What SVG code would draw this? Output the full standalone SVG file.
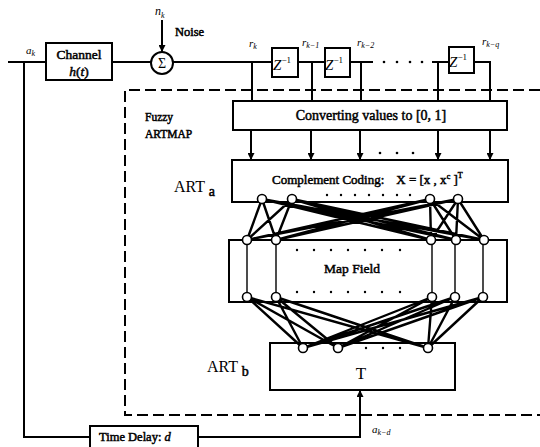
<svg xmlns="http://www.w3.org/2000/svg" width="540" height="447" viewBox="0 0 540 447">
<style>
.ln{stroke:#000;stroke-width:2;fill:none}
.dash{stroke:#000;stroke-width:2;fill:none;stroke-dasharray:11 5}
.bx{stroke:#000;stroke-width:2;fill:#fff}
.nd{stroke:#000;stroke-width:1.6;fill:#fff}
.w{stroke:#000;stroke-width:2.4;fill:none}
.v{stroke:#000;stroke-width:1.4;fill:none}
.t{font-family:"Liberation Serif",serif;fill:#000}
.b{stroke:#000;stroke-width:0.5}
.i{font-style:italic}
.dot{fill:#000}
</style>
<defs>
<marker id="ah" viewBox="0 0 10 10" refX="10" refY="5" markerWidth="9" markerHeight="7" orient="auto" markerUnits="userSpaceOnUse">
<path d="M0,0 L10,5 L0,10 z" fill="#000"/>
</marker>
</defs>

<!-- dashed Fuzzy ARTMAP frame -->
<path class="dash" d="M540,90 H125 V415 H540"/>

<g id="channel">
<rect class="bx" x="46" y="43" width="66" height="37"/>
<text class="t b" x="79" y="59" font-size="13.5" text-anchor="middle">Channel</text>
<text class="t b" x="79" y="76" font-size="13.5" text-anchor="middle"><tspan class="i">h</tspan>(<tspan class="i">t</tspan>)</text>
</g>

<g id="sum">
<circle class="bx" cx="162" cy="63" r="11"/>
<text class="t" x="162" y="68" font-size="14" text-anchor="middle">Σ</text>
</g>

<g id="z1">
<rect class="bx" x="272" y="48" width="26" height="29"/>
<text class="t i" x="282" y="70" font-size="15" text-anchor="middle">Z<tspan font-size="9" dy="-7" font-style="normal">−1</tspan></text>
</g>
<g id="z2">
<rect class="bx" x="325" y="48" width="25" height="29"/>
<text class="t i" x="334" y="70" font-size="15" text-anchor="middle">Z<tspan font-size="9" dy="-7" font-style="normal">−1</tspan></text>
</g>
<g id="zq">
<rect class="bx" x="449" y="47" width="25" height="26"/>
<text class="t i" x="458" y="67" font-size="15" text-anchor="middle">Z<tspan font-size="9" dy="-7" font-style="normal">−1</tspan></text>
</g>

<g id="convert">
<rect class="bx" x="233" y="101" width="274" height="29"/>
<text class="t b" x="371" y="120" font-size="14" text-anchor="middle">Converting values to [0, 1]</text>
</g>

<g id="arta">
<rect class="bx" x="232" y="160" width="276" height="42"/>
<text class="t b" x="272" y="184" font-size="13">Complement Coding:<tspan dx="12">X = [x , x</tspan><tspan font-size="8" dy="-5">c</tspan><tspan dy="5"> ]</tspan><tspan font-size="8" dy="-6">T</tspan></text>
<g class="dot"><circle cx="327" cy="195" r="1.2"/><circle cx="341" cy="195" r="1.2"/><circle cx="355" cy="195" r="1.2"/><circle cx="369" cy="195" r="1.2"/><circle cx="383" cy="195" r="1.2"/><circle cx="397" cy="195" r="1.2"/><circle cx="410" cy="195" r="1.2"/></g>
</g>

<g id="mapfield">
<rect class="bx" x="229" y="240" width="278" height="62"/>
<text class="t b" x="352" y="273" font-size="13.5" text-anchor="middle">Map Field</text>
<g class="dot"><circle cx="297" cy="250" r="1.2"/><circle cx="314" cy="250" r="1.2"/><circle cx="331" cy="250" r="1.2"/><circle cx="348" cy="250" r="1.2"/><circle cx="365" cy="250" r="1.2"/><circle cx="382" cy="250" r="1.2"/><circle cx="400" cy="250" r="1.2"/>
<circle cx="297" cy="292" r="1.2"/><circle cx="314" cy="292" r="1.2"/><circle cx="331" cy="292" r="1.2"/><circle cx="348" cy="292" r="1.2"/><circle cx="365" cy="292" r="1.2"/><circle cx="382" cy="292" r="1.2"/><circle cx="400" cy="292" r="1.2"/></g>
</g>

<g id="artb">
<rect class="bx" x="270" y="343" width="185" height="47"/>
<text class="t" x="361" y="379" font-size="17" text-anchor="middle">T</text>
<g class="dot"><circle cx="366" cy="348" r="1.2"/><circle cx="383" cy="348" r="1.2"/><circle cx="400" cy="348" r="1.2"/></g>
</g>

<g id="timedelay">
<rect class="bx" x="90" y="426" width="108" height="24"/>
<text class="t b" x="99" y="441" font-size="12.5">Time Delay:  <tspan class="i">d</tspan></text>
</g>

<g id="connectors">
<path class="ln" d="M8,62 H46 M112,62 H151 M173,62 H272 M298,62 H325 M350,62 H373 M432,62 H449 M474,62 H490 V101"/>
<path class="ln" d="M252,62 V101 M312,62 V101 M361,62 V101 M438,62 V101"/>
<g class="dot"><circle cx="384" cy="62" r="1.3"/><circle cx="397" cy="62" r="1.3"/><circle cx="410" cy="62" r="1.3"/><circle cx="422" cy="62" r="1.3"/></g>
<path class="ln" d="M162,20 V52" marker-end="url(#ah)"/>
<path class="ln" d="M251,130 V160" marker-end="url(#ah)"/>
<path class="ln" d="M311,130 V160" marker-end="url(#ah)"/>
<path class="ln" d="M360,130 V160" marker-end="url(#ah)"/>
<path class="ln" d="M438,130 V160" marker-end="url(#ah)"/>
<path class="ln" d="M490,130 V160" marker-end="url(#ah)"/>
<g class="dot"><circle cx="380" cy="153" r="1.3"/><circle cx="397" cy="153" r="1.3"/><circle cx="413" cy="153" r="1.3"/></g>
<path class="ln" d="M24,62 V437 H90"/>
<path class="ln" d="M198,437 H360 V390" marker-end="url(#ah)"/>
<path class="w" d="M262,199 L247,240 M262,199 L276,240 M262,199 L431,240 M262,199 L456,240 M262,199 L484,240
M292,199 L247,240 M292,199 L276,240 M292,199 L431,240 M292,199 L456,240 M292,199 L484,240
M430,199 L247,240 M430,199 L276,240 M430,199 L431,240 M430,199 L456,240 M430,199 L484,240
M458,199 L247,240 M458,199 L276,240 M458,199 L431,240 M458,199 L456,240 M458,199 L484,240"/>
<path class="v" d="M247,240 V297 M276,240 V297 M432,240 V297 M455,240 V297 M483,240 V297"/>
<path class="w" d="M247,297 L303,348 M247,297 L338,348 M247,297 L428,348
M276,297 L303,348 M276,297 L338,348 M276,297 L428,348
M432,297 L303,348 M432,297 L338,348 M432,297 L428,348
M455,297 L303,348 M455,297 L338,348 M455,297 L428,348
M483,297 L303,348 M483,297 L338,348 M483,297 L428,348"/>
</g>

<g id="nodes">
<circle class="nd" cx="262" cy="199" r="4.5"/><circle class="nd" cx="292" cy="199" r="4.5"/><circle class="nd" cx="430" cy="199" r="4.5"/><circle class="nd" cx="458" cy="199" r="4.5"/>
<circle class="nd" cx="247" cy="240" r="4.5"/><circle class="nd" cx="276" cy="240" r="4.5"/><circle class="nd" cx="431" cy="240" r="4.5"/><circle class="nd" cx="456" cy="240" r="4.5"/><circle class="nd" cx="484" cy="240" r="4.5"/>
<circle class="nd" cx="247" cy="297" r="4.5"/><circle class="nd" cx="276" cy="297" r="4.5"/><circle class="nd" cx="432" cy="297" r="4.5"/><circle class="nd" cx="455" cy="297" r="4.5"/><circle class="nd" cx="483" cy="297" r="4.5"/>
<circle class="nd" cx="303" cy="348" r="4.5"/><circle class="nd" cx="338" cy="348" r="4.5"/><circle class="nd" cx="428" cy="348" r="4.5"/>
</g>

<g id="labels">
<text class="t i" x="26" y="54" font-size="11">a<tspan font-size="8" dy="2">k</tspan></text>
<text class="t i" x="155" y="15" font-size="12">n<tspan font-size="8" dy="3">k</tspan></text>
<text class="t b" x="175" y="36" font-size="12.5">Noise</text>
<text class="t i" x="249" y="47" font-size="11">r<tspan font-size="8" dy="2">k</tspan></text>
<text class="t i" x="302" y="46" font-size="11">r<tspan font-size="8" dy="2">k−1</tspan></text>
<text class="t i" x="357" y="46" font-size="11">r<tspan font-size="8" dy="2">k−2</tspan></text>
<text class="t i" x="482" y="45" font-size="11">r<tspan font-size="8" dy="2">k−q</tspan></text>
<text class="t b" x="145" y="121" font-size="11.5">Fuzzy</text>
<text class="t b" x="145" y="138" font-size="11.5">ARTMAP</text>
<text class="t" x="174" y="192" font-size="16">ART <tspan class="b" font-size="14" dy="4">a</tspan></text>
<text class="t" x="207" y="372" font-size="16">ART <tspan class="b" font-size="14" dy="4">b</tspan></text>
<text class="t i" x="372" y="433" font-size="11">a<tspan font-size="8" dy="2">k−d</tspan></text>
</g>
</svg>
